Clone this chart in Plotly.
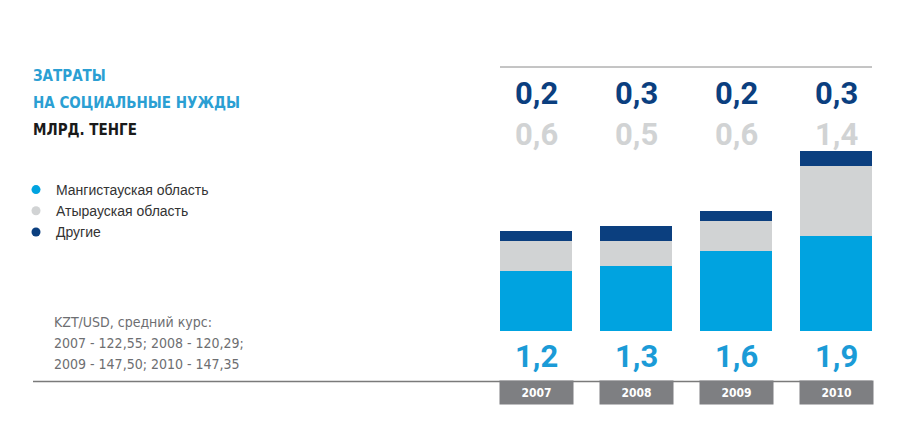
import plotly.graph_objects as go

# Data (млрд. тенге)
years = ["2007", "2008", "2009", "2010"]
mangistau = [1.2, 1.3, 1.6, 1.9]
atyrau = [0.6, 0.5, 0.6, 1.4]
others = [0.2, 0.3, 0.2, 0.3]

series_names = ["Мангистауская область", "Атырауская область", "Другие"]
note_lines = ["KZT/USD, средний курс:",
              "2007 - 122,55; 2008 - 120,29;",
              "2009 - 147,50; 2010 - 147,35"]

BLUE = "#00a3e0"
GREY = "#d1d3d4"
NAVY = "#0b3f7f"
BOX = "#7e7f82"
COND = "DejaVu Sans Condensed, Liberation Sans Narrow, sans-serif"
BIG = "Roboto, Liberation Sans, sans-serif"

W, H = 906, 440
OFF = 8  # the page body margin shifts the figure by 8px


def px(v):
    # page column -> paper x
    return (v - OFF) / W


def py(v):
    # page row -> paper y
    return 1 - (v - OFF) / H


def fmt(v):
    return f"{v:.1f}".replace(".", ",")


fig = go.Figure()

for name, vals, col in zip(series_names, [mangistau, atyrau, others], [BLUE, GREY, NAVY]):
    fig.add_trace(go.Bar(x=years, y=vals, name=name, marker=dict(color=col, line=dict(width=0)),
                         showlegend=False, hoverinfo="skip"))

# dummy traces for round legend markers
for name, col in zip(series_names, [BLUE, GREY, NAVY]):
    fig.add_trace(go.Scatter(x=[None], y=[None], mode="markers", name=name,
                             marker=dict(color=col, size=9, symbol="circle")))

annotations = []

# title
for txt, row, col in [("ЗАТРАТЫ", 76, "#2b9fd3"), ("НА СОЦИАЛЬНЫЕ НУЖДЫ", 103, "#2b9fd3"),
                      ("МЛРД. ТЕНГЕ", 130, "#1a1a1a")]:
    annotations.append(dict(text=txt, x=px(31), y=py(row), xref="paper", yref="paper",
                            xanchor="left", yanchor="middle", showarrow=False,
                            font=dict(family=COND, size=15, color=col, weight="bold")))

# footnote
for i, txt in enumerate(note_lines):
    annotations.append(dict(text=txt, x=px(52), y=py(322 + 21 * i), xref="paper", yref="paper",
                            xanchor="left", yanchor="middle", showarrow=False,
                            font=dict(family=COND, size=14, color="#6d6e71")))

# value labels and year boxes
for i, yr in enumerate(years):
    annotations.append(dict(text=fmt(others[i]), x=i, y=py(94), xref="x", yref="paper",
                            yanchor="middle", showarrow=False,
                            font=dict(family=BIG, size=31, color=NAVY, weight="bold")))
    annotations.append(dict(text=fmt(atyrau[i]), x=i, y=py(134), xref="x", yref="paper",
                            yanchor="middle", showarrow=False,
                            font=dict(family=BIG, size=31, color=GREY, weight="bold")))
    annotations.append(dict(text=fmt(mangistau[i]), x=i, y=py(356), xref="x", yref="paper",
                            yanchor="middle", showarrow=False,
                            font=dict(family=BIG, size=31, color="#1b9bd7", weight="bold")))
    annotations.append(dict(text=yr, x=i, y=py(392.5), xref="x", yref="paper",
                            yanchor="middle", showarrow=False, width=73, height=23,
                            borderpad=0, bgcolor=BOX,
                            font=dict(family=COND, size=12, color="white", weight="bold")))

shapes = [
    dict(type="line", xref="paper", yref="paper", x0=px(500), x1=px(872), y0=py(67), y1=py(67),
         line=dict(color="#8a8a8a", width=1)),
    dict(type="line", xref="paper", yref="paper", x0=px(33), x1=px(872), y0=py(381.5), y1=py(381.5),
         line=dict(color="#7a7a7a", width=1.6)),
]

fig.update_layout(
    width=W, height=H,
    margin=dict(l=0, r=0, t=0, b=0),
    paper_bgcolor="white", plot_bgcolor="white",
    barmode="stack", bargap=0.28,
    xaxis=dict(type="category", range=[-0.5, 3.5], domain=[px(486), px(886)],
               showticklabels=False, showgrid=False, zeroline=False, showline=False),
    yaxis=dict(range=[0, 4], domain=[py(331), py(131)],
               showticklabels=False, showgrid=False, zeroline=False, showline=False),
    legend=dict(x=px(16), y=py(174), xanchor="left", yanchor="top", traceorder="normal",
                font=dict(family="Liberation Sans, Arial, sans-serif", size=14, color="#333333"),
                bgcolor="rgba(0,0,0,0)", tracegroupgap=0),
    annotations=annotations,
    shapes=shapes,
)

fig.write_html("out.html")
